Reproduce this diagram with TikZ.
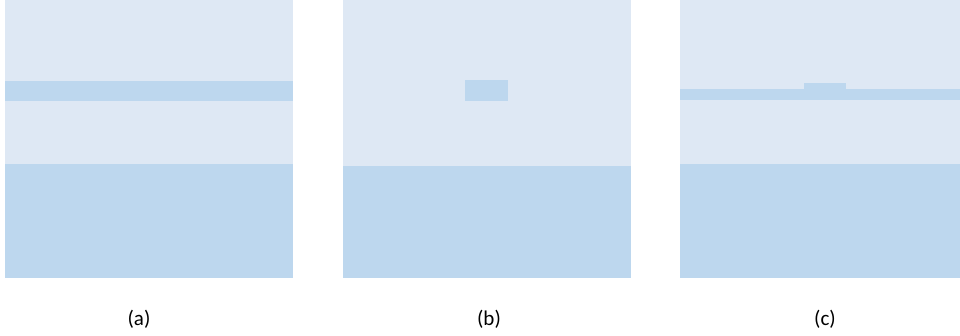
\documentclass[tikz,border=0pt]{standalone}
\usepackage{fontspec}
\setmainfont{Carlito}
\usepackage{tikz}
\usetikzlibrary{positioning}
\definecolor{chiaro}{HTML}{DEE8F4}
\definecolor{scuro}{HTML}{BDD7EE}

\begin{document}
\begin{tikzpicture}[x=1pt,y=-1pt, etichetta/.style={font=\fontsize{21}{25}\selectfont}]

    \useasboundingbox (0,0) rectangle (960,335);

    % pannello (a)
    \fill[chiaro] (5,0) rectangle (293,163.5);
    \fill[scuro] (5,80.5) rectangle (293,101); % strato
    \fill[scuro] (5,163.5) rectangle (293,277.5); % base
    \node[etichetta] (la) at (139,319) {(a)};

    % pannello (b)
    \fill[chiaro] (342.5,0) rectangle (631,166);
    \fill[scuro] (465,79.5) rectangle (507.5,101); % blocco
    \fill[scuro] (342.5,166) rectangle (631,277.5); % base
    \node[etichetta] (lb) at (489,319) {(b)};

    % pannello (c)
    \fill[chiaro] (679.5,0) rectangle (960,163.5);
    \fill[scuro] (679.5,89) rectangle (960,100); % strato
    \fill[scuro] (804,82.5) rectangle (846,89); % gradino
    \fill[scuro] (679.5,163.5) rectangle (960,277.5); % base
    \node[etichetta] (lc) at (825,319) {(c)};

\end{tikzpicture}
\end{document}
